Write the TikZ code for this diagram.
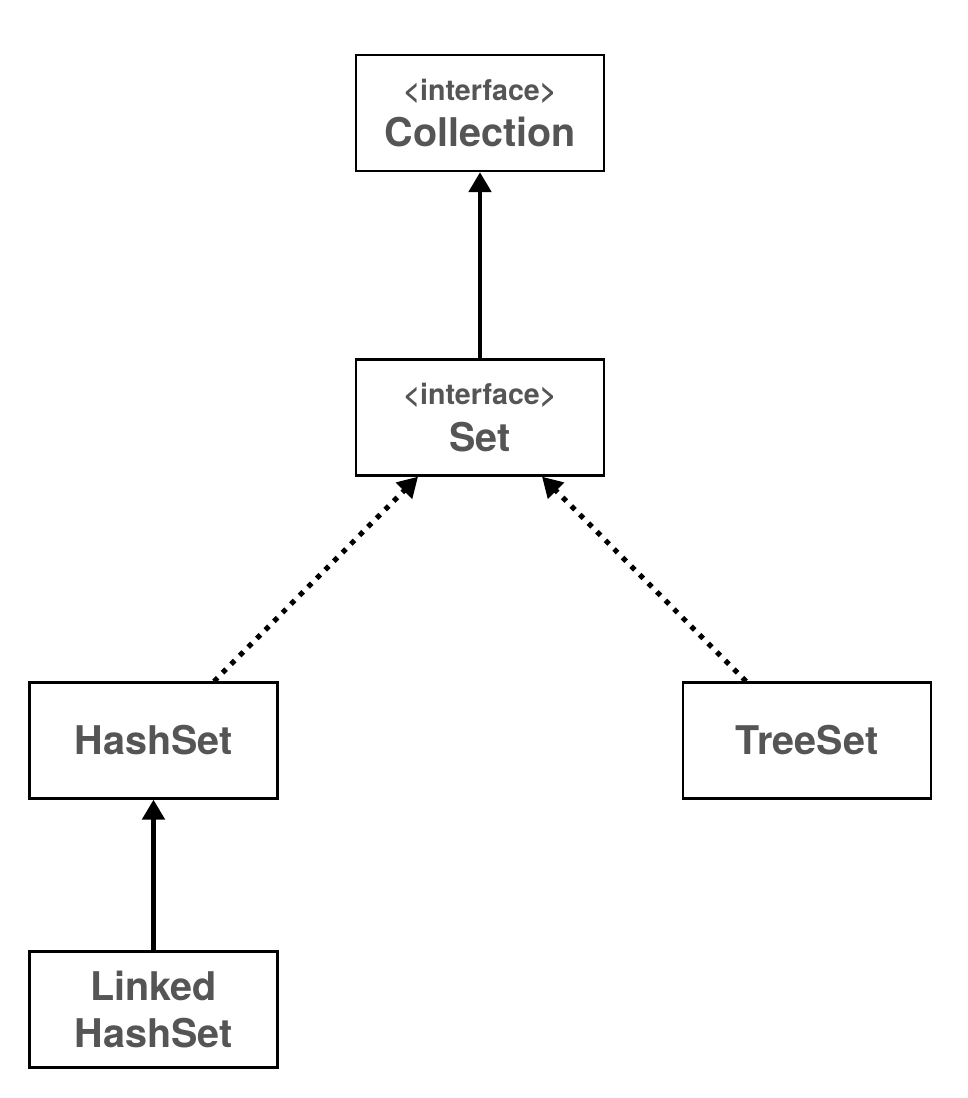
\documentclass[tikz,border=0pt]{standalone}
\usepackage{fontspec}
\setmainfont{TeX Gyre Heros}
\usepackage{tikz}
\usetikzlibrary{arrows.meta}
\usetikzlibrary{positioning}
\definecolor{labelgray}{HTML}{555555}
\newcommand{\stereotag}[1]{{\fontsize{16.3}{18}\selectfont #1}}

\begin{document}
\begin{tikzpicture}
    [
    x=0.02cm,y=-0.02cm,
    class/.style={rectangle,draw,line width=1.3pt,minimum width=4.96cm,minimum height=2.32cm,
      align=center,text=labelgray,font=\bfseries\fontsize{22.5}{25}\selectfont},
    extends/.style={line width=2.8pt,-{Triangle[length=0.4cm,width=0.44cm]}},
    implements/.style={line width=2.9pt,dash pattern=on 2.9pt off 4pt,-{Triangle[length=0.4cm,width=0.44cm]}},
    ]
    \useasboundingbox (0,0) rectangle (967,1098);
    \node (collection) at (480,113) [class] {\stereotag{<interface>}\\[1.4pt]Collection};
    \node (set) at (480,417.5) [class] {\stereotag{<interface>}\\[1.4pt]Set};
    \node (hashset) at (153.5,740.5) [class] {HashSet};
    \node (treeset) at (807,740.5) [class] {TreeSet};
    \node (linked) at (153.5,1009.5) [class] {Linked\\[1.5pt]HashSet};
    \draw [extends] (set) to (collection);
    \draw [extends] (linked) to (hashset);
    \draw [implements] ([xshift=1.21cm]hashset.north) to ([xshift=-1.24cm]set.south);
    \draw [implements] ([xshift=-1.22cm]treeset.north) to ([xshift=1.24cm]set.south);
  \end{tikzpicture}
\end{document}
